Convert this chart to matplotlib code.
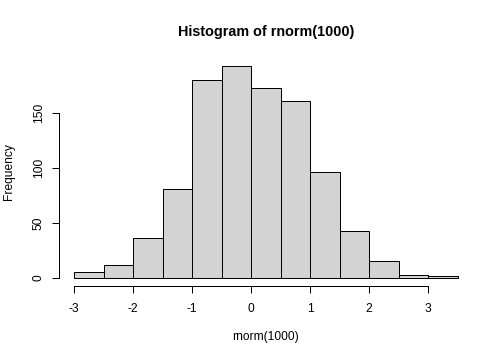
import matplotlib
matplotlib.use('Agg')  # no display
import matplotlib.pyplot as plt

# histogram of rnorm(1000), bins of width 0.5
bin_edges = [-3.0, -2.5, -2.0, -1.5, -1.0, -0.5, 0.0, 0.5, 1.0, 1.5, 2.0, 2.5, 3.0, 3.5]
counts = [5, 12, 36, 81, 180, 193, 173, 161, 96, 43, 15, 3, 2]
x_ticks = [-3, -2, -1, 0, 1, 2, 3]
y_ticks = [0, 50, 100, 150]

plt.rcParams['font.family'] = ['Liberation Sans', 'DejaVu Sans']
plt.rcParams['axes.unicode_minus'] = False

fig = plt.figure(figsize=(7, 5), dpi=72)
ax = fig.add_axes([0.117, 0.2042, 0.8215, 0.6368])

widths = [b - a for a, b in zip(bin_edges[:-1], bin_edges[1:])]
ax.bar(bin_edges[:-1], counts, width=widths, align='edge',
       color='#D3D3D3', edgecolor='black', linewidth=1)

ax.set_xlim(-3.26, 3.76)
ax.set_ylim(-7.72, 200.72)

for side in ('top', 'right'):
    ax.spines[side].set_visible(False)
ax.spines['bottom'].set_bounds(x_ticks[0], x_ticks[-1])
ax.spines['left'].set_bounds(y_ticks[0], y_ticks[-1])
ax.spines['bottom'].set_linewidth(1)
ax.spines['left'].set_linewidth(1)

ax.set_xticks(x_ticks)
ax.set_yticks(y_ticks)
ax.tick_params(direction='out', length=7, width=1, labelsize=12)
ax.tick_params(axis='x', pad=10)
ax.tick_params(axis='y', pad=7)
for lab in ax.get_yticklabels():
    lab.set_rotation(90)
    lab.set_va('center')

ax.set_xlabel('rnorm(1000)', fontsize=12)
ax.xaxis.set_label_coords(0.5, -0.22)
ax.xaxis.label.set_va('center')
ax.set_ylabel('Frequency', fontsize=12)
ax.yaxis.set_label_coords(-0.12, 0.5)
ax.yaxis.label.set_va('center')

fig.text(0.528, 0.912, 'Histogram of rnorm(1000)', ha='center', va='center',
         fontsize=14.4, fontweight='bold')

fig.savefig('out.png', dpi=72)
